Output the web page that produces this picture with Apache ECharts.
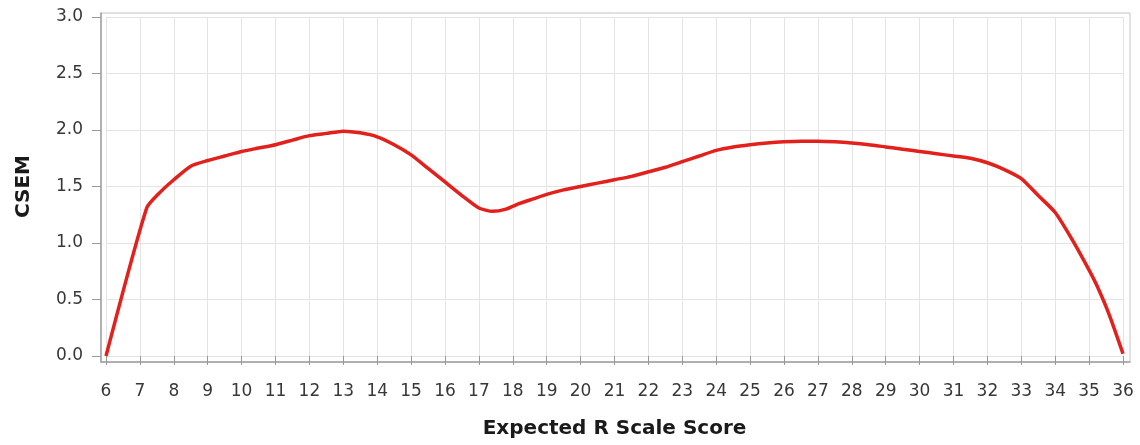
<!DOCTYPE html>
<html>
<head>
<meta charset="utf-8">
<script src="https://cdn.jsdelivr.net/npm/echarts@6/dist/echarts.min.js"></script>
<style>html,body{margin:0;padding:0;background:#fff}#c{width:1140px;height:445px}</style>
</head>
<body>
<div id="c"></div>
<script>
// Expected R scale score (x) and CSEM (y)
var scores = [6, 7.2, 7.6, 8.0, 8.5, 9, 9.5, 10, 10.5, 11, 11.5, 12, 12.5, 13, 13.5, 14, 14.5, 15, 15.5, 16, 16.5, 17, 17.4, 17.8, 18.2, 18.6, 19, 19.5, 20, 20.5, 21, 21.5, 22, 22.5, 23, 23.5, 24, 24.5, 25, 25.5, 26, 26.5, 27, 27.5, 28, 28.5, 29, 29.5, 30, 30.5, 31, 31.5, 32, 32.5, 33, 33.5, 34, 34.5, 35, 35.25, 35.6, 36];
var csem = [0.0, 1.31, 1.45, 1.56, 1.68, 1.73, 1.77, 1.81, 1.84, 1.87, 1.91, 1.95, 1.97, 1.99, 1.975, 1.94, 1.87, 1.78, 1.66, 1.54, 1.42, 1.31, 1.28, 1.30, 1.35, 1.39, 1.43, 1.47, 1.50, 1.53, 1.56, 1.59, 1.63, 1.67, 1.72, 1.77, 1.82, 1.85, 1.87, 1.885, 1.895, 1.90, 1.90, 1.895, 1.885, 1.87, 1.85, 1.83, 1.81, 1.79, 1.77, 1.75, 1.71, 1.65, 1.57, 1.42, 1.27, 1.03, 0.76, 0.61, 0.36, 0.02];
var xTitle = 'Expected R Scale Score';
var yTitle = 'CSEM';

var points = scores.map(function (s, i) { return [s, csem[i]]; });
var font = 'DejaVu Sans';

var chart = echarts.init(document.getElementById('c'), null, {renderer: 'canvas'});
chart.setOption({
  backgroundColor: '#ffffff',
  animation: false,
  grid: [
    {left: 106, right: 17, top: 17, bottom: 89},
    {left: 101, right: 10, top: 13, bottom: 83, show: true, borderColor: '#c4c4c4', borderWidth: 1, backgroundColor: 'transparent', z: 0}
  ],
  xAxis: [
    {
      type: 'value', gridIndex: 0, min: 6, max: 36, interval: 1, offset: 6,
      name: xTitle, nameLocation: 'middle', nameGap: 57,
      nameTextStyle: {fontFamily: font, fontSize: 20, fontWeight: 'bold', color: '#1a1a1a'},
      axisLine: {show: false},
      axisTick: {show: true, length: 9, lineStyle: {color: '#999'}},
      axisLabel: {margin: 21, fontFamily: font, fontSize: 17, color: '#383838'},
      splitLine: {show: true, lineStyle: {color: '#e4e4e4', width: 1}}
    },
    {
      type: 'value', gridIndex: 1, min: 0, max: 1,
      axisLine: {show: true, onZero: false, lineStyle: {color: '#a0a0a0', width: 1.5}},
      axisTick: {show: false}, axisLabel: {show: false}, splitLine: {show: false}
    }
  ],
  yAxis: [
    {
      type: 'value', gridIndex: 0, min: 0, max: 3, interval: 0.5, offset: 5,
      name: yTitle, nameLocation: 'middle', nameGap: 67, nameRotate: 90,
      nameTextStyle: {fontFamily: font, fontSize: 20, fontWeight: 'bold', color: '#1a1a1a'},
      axisLine: {show: false},
      axisTick: {show: true, length: 9, lineStyle: {color: '#999'}},
      axisLabel: {margin: 18, fontFamily: font, fontSize: 17, color: '#383838',
        formatter: function (v) { return v.toFixed(1); }},
      splitLine: {show: true, lineStyle: {color: '#e4e4e4', width: 1}}
    },
    {
      type: 'value', gridIndex: 1, min: 0, max: 1,
      axisLine: {show: true, onZero: false, lineStyle: {color: '#a0a0a0', width: 1.5}},
      axisTick: {show: false}, axisLabel: {show: false}, splitLine: {show: false}
    }
  ],
  series: [{
    type: 'line', xAxisIndex: 0, yAxisIndex: 0,
    data: points, showSymbol: false, smooth: 0.2,
    lineStyle: {color: '#e2201c', width: 3.5},
    z: 5
  }]
});
</script>
</body>
</html>
